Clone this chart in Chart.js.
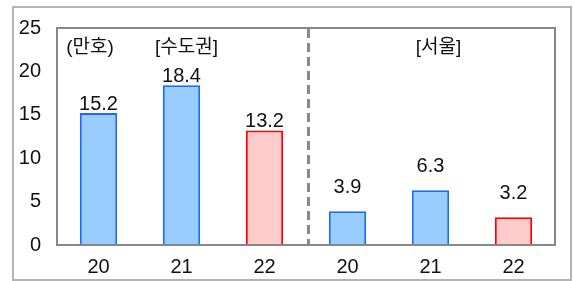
<!DOCTYPE html>
<html>
<head>
<meta charset="utf-8">
<script src="https://cdn.jsdelivr.net/npm/chart.js@4"></script>
<style>
  html, body { margin: 0; padding: 0; background: #fff; }
  #wrap { width: 574px; height: 281px; }
</style>
</head>
<body>
<div id="wrap"><canvas id="grafico" width="574" height="281"></canvas></div>
<script>
// dados (만호)
const anos = ['20', '21', '22', '20', '21', '22'];
const valores = [15.2, 18.4, 13.2, 3.9, 6.3, 3.2];
const regioes = ['[수도권]', '[서울]'];
const unidade = '(만호)';
const yTicks = [0, 5, 10, 15, 20, 25];

const FONTE = "'Liberation Sans', Arial, 'Noto Sans CJK KR', sans-serif";
const azulFill = '#99ccff', azulBorda = '#1a6cff';
const vermFill = '#ffcccc', vermBorda = '#ff0000';

// o último ano de cada grupo é vermelho
const fills = anos.map(a => a === '22' ? vermFill : azulFill);
const bordas = anos.map(a => a === '22' ? vermBorda : azulBorda);

const molduraPlugin = {
    id: 'moldura',
    beforeDraw(chart) {
        const ctx = chart.ctx;
        ctx.save();
        ctx.strokeStyle = '#b4b4b4';
        ctx.lineWidth = 2;
        ctx.strokeRect(13, 7, 558, 273);
        ctx.restore();
    },
    afterDatasetsDraw(chart) {
        const ctx = chart.ctx;
        const a = chart.chartArea;
        const x = chart.scales.x;
        ctx.save();
        // borda da área do gráfico
        ctx.strokeStyle = '#888888';
        ctx.lineWidth = 2;
        ctx.strokeRect(a.left, a.top, a.right - a.left, a.bottom - a.top);

        // linha tracejada entre os grupos
        const xm = Math.round((x.getPixelForValue(2) + x.getPixelForValue(3)) / 2) + 2.5;
        ctx.lineWidth = 3;
        ctx.setLineDash([9, 5]);
        ctx.beginPath();
        ctx.moveTo(xm, a.top + 1);
        ctx.lineTo(xm, a.bottom);
        ctx.stroke();
        ctx.setLineDash([]);

        // rótulos dos valores
        const gaps = [3, 3, 3, 18, 18, 18];
        ctx.fillStyle = '#111';
        ctx.font = '20px ' + FONTE;
        ctx.textAlign = 'center';
        ctx.textBaseline = 'alphabetic';
        const meta = chart.getDatasetMeta(0);
        meta.data.forEach((bar, i) => {
            ctx.fillText(valores[i].toFixed(1), bar.x, bar.y - gaps[i]);
        });

        // textos dos grupos
        ctx.font = '19px ' + FONTE;
        ctx.textBaseline = 'middle';
        ctx.fillText(unidade, a.left + 33, a.top + 20);
        ctx.fillText(regioes[0], x.getPixelForValue(1) + 5, a.top + 20);
        ctx.fillText(regioes[1], x.getPixelForValue(4) + 8, a.top + 20);
        ctx.restore();
    }
};

const ctx = document.getElementById('grafico').getContext('2d');
new Chart(ctx, {
    type: 'bar',
    data: {
        labels: anos,
        datasets: [{
            data: valores,
            backgroundColor: fills,
            borderColor: bordas,
            borderWidth: 2,
            barPercentage: 0.45,
            categoryPercentage: 1
        }]
    },
    options: {
        responsive: false,
        animation: false,
        layout: { padding: { top: 25, right: 19, left: 0, bottom: 0 } },
        plugins: { legend: { display: false }, tooltip: { enabled: false } },
        scales: {
            x: {
                grid: { display: false, drawTicks: false },
                border: { display: false },
                ticks: { color: '#111', font: { size: 20, family: FONTE }, padding: 10 },
                afterFit(s) { s.height = 36; }
            },
            y: {
                min: 0,
                max: 25,
                afterBuildTicks(s) { s.ticks = yTicks.map(v => ({ value: v })); },
                grid: { display: false, drawTicks: false },
                border: { display: false },
                ticks: { color: '#111', font: { size: 20, family: FONTE }, padding: 16 },
                afterFit(s) { s.width = 57; }
            }
        }
    },
    plugins: [molduraPlugin]
});
</script>
</body>
</html>
